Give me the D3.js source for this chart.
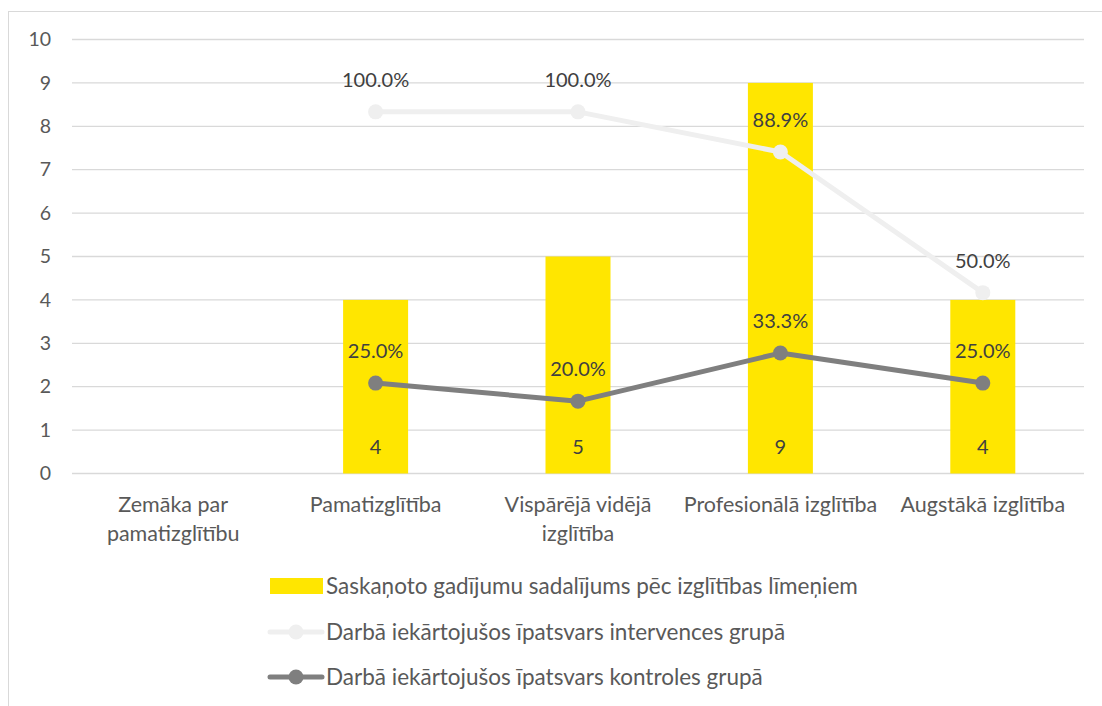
<!DOCTYPE html>
<html>
<head>
<meta charset="utf-8" />
<title>Izglītības līmeņi</title>
<script src="https://d3js.org/d3.v7.min.js"></script>
<style>
  body { margin: 0; background: #fff; }
  svg text { font-family: Lato, "Open Sans", sans-serif; }
</style>
</head>
<body>
<svg id="chart" width="1102" height="706"></svg>
<script>
// data
var categories = ["Zemāka par pamatizglītību", "Pamatizglītība", "Vispārējā vidējā izglītība", "Profesionālā izglītība", "Augstākā izglītība"];
var categoryLines = [["Zemāka par", "pamatizglītību"], ["Pamatizglītība"], ["Vispārējā vidējā", "izglītība"], ["Profesionālā izglītība"], ["Augstākā izglītība"]];
var cases = [null, 4, 5, 9, 4];
var intervention = [null, 1.0, 1.0, 0.889, 0.5];
var control = [null, 0.25, 0.2, 0.333, 0.25];
var yTicks = [0, 1, 2, 3, 4, 5, 6, 7, 8, 9, 10];
var seriesNames = [
  "Saskaņoto gadījumu sadalījums pēc izglītības līmeņiem",
  "Darbā iekārtojušos īpatsvars intervences grupā",
  "Darbā iekārtojušos īpatsvars kontroles grupā"
];

var svg = d3.select("#chart");

// outer border of the chart box
svg.append("rect")
  .attr("x", 8.5).attr("y", 11.5)
  .attr("width", 1110).attr("height", 720)
  .attr("fill", "none").attr("stroke", "#d9d9d9").attr("stroke-width", 1);

var plotLeft = 72, plotRight = 1084, plotTop = 39.5, plotBottom = 473.5;

var x = d3.scaleBand().domain(categories).range([plotLeft, plotRight]);
var y = d3.scaleLinear().domain([0, 10]).range([plotBottom, plotTop]);
var y2 = d3.scaleLinear().domain([0, 1.2]).range([plotBottom, plotTop]);

// gridlines
svg.append("g").selectAll("line")
  .data(yTicks)
  .enter().append("line")
  .attr("x1", plotLeft).attr("x2", plotRight)
  .attr("y1", function(d){ return y(d); })
  .attr("y2", function(d){ return y(d); })
  .attr("stroke", "#d9d9d9").attr("stroke-width", 1.3);

// y axis labels
var yAxis = d3.axisLeft(y).tickValues(yTicks).tickSize(0).tickPadding(0);
var yg = svg.append("g").attr("transform", "translate(51,0)").call(yAxis);
yg.select(".domain").remove();
yg.selectAll("text")
  .attr("font-size", 19.5).attr("fill", "#595959")
  .style("font-family", "Lato, 'Open Sans', sans-serif");

// bars
var barW = 65;
var barData = categories.map(function(c, i){ return {cat: c, v: cases[i]}; })
  .filter(function(d){ return d.v != null; });

svg.append("g").selectAll("rect")
  .data(barData)
  .enter().append("rect")
  .attr("x", function(d){ return x(d.cat) + x.bandwidth() / 2 - barW / 2; })
  .attr("y", function(d){ return y(d.v); })
  .attr("width", barW)
  .attr("height", function(d){ return y(0) - y(d.v); })
  .attr("fill", "#ffe600");

svg.append("g").selectAll("text")
  .data(barData)
  .enter().append("text")
  .attr("x", function(d){ return x(d.cat) + x.bandwidth() / 2; })
  .attr("y", y(0) - 20)
  .attr("text-anchor", "middle")
  .attr("font-size", 20).attr("fill", "#404040")
  .text(function(d){ return d.v; });

// lines
function drawLine(values, color, labelColor) {
  var pts = categories.map(function(c, i){ return {cat: c, v: values[i]}; })
    .filter(function(d){ return d.v != null; });
  var line = d3.line()
    .x(function(d){ return x(d.cat) + x.bandwidth() / 2; })
    .y(function(d){ return y2(d.v); });
  var g = svg.append("g");
  g.append("path")
    .datum(pts)
    .attr("d", line)
    .attr("fill", "none")
    .attr("stroke", color)
    .attr("stroke-width", 5)
    .attr("stroke-linejoin", "round");
  g.selectAll("circle")
    .data(pts)
    .enter().append("circle")
    .attr("cx", function(d){ return x(d.cat) + x.bandwidth() / 2; })
    .attr("cy", function(d){ return y2(d.v); })
    .attr("r", 7.5)
    .attr("fill", color);
  g.selectAll("text")
    .data(pts)
    .enter().append("text")
    .attr("x", function(d){ return x(d.cat) + x.bandwidth() / 2; })
    .attr("y", function(d){ return y2(d.v) - 25; })
    .attr("text-anchor", "middle")
    .attr("font-size", 20).attr("fill", "#404040")
    .text(function(d){ return (d.v * 100).toFixed(1) + "%"; });
}
drawLine(intervention, "#efefef", "#404040");
drawLine(control, "#7f7f7f", "#404040");

// category labels
var xg = svg.append("g");
categoryLines.forEach(function(lines, i){
  var t = xg.append("text")
    .attr("x", x(categories[i]) + x.bandwidth() / 2)
    .attr("y", 512)
    .attr("text-anchor", "middle")
    .attr("font-size", 21.5).attr("fill", "#595959");
  lines.forEach(function(s, j){
    t.append("tspan")
      .attr("x", x(categories[i]) + x.bandwidth() / 2)
      .attr("dy", j === 0 ? 0 : 29)
      .text(s);
  });
});

// legend
var legY = [586, 632, 677];
var lg = svg.append("g");
lg.append("rect").attr("x", 270).attr("y", legY[0] - 8).attr("width", 53).attr("height", 16).attr("fill", "#ffe600");
[["#efefef", 1], ["#7f7f7f", 2]].forEach(function(s){
  lg.append("line").attr("x1", 270).attr("x2", 322)
    .attr("y1", legY[s[1]]).attr("y2", legY[s[1]])
    .attr("stroke", s[0]).attr("stroke-width", 5).attr("stroke-linecap", "round");
  lg.append("circle").attr("cx", 296).attr("cy", legY[s[1]]).attr("r", 7.5).attr("fill", s[0]);
});
seriesNames.forEach(function(name, i){
  lg.append("text")
    .attr("x", 326).attr("y", legY[i])
    .attr("dy", "0.35em")
    .attr("font-size", 22.5).attr("fill", "#595959")
    .text(name);
});
</script>
</body>
</html>
